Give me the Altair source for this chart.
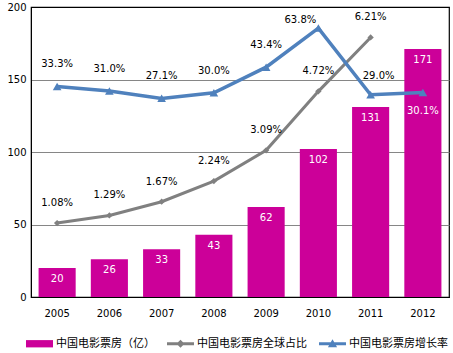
import altair as alt
import pandas as pd

years = ["2005", "2006", "2007", "2008", "2009", "2010", "2011", "2012"]
box_office = [20, 26, 33, 43, 62, 102, 131, 171]
share_years = ["2005", "2006", "2007", "2008", "2009", "2010", "2011"]
global_share = [1.08, 1.29, 1.67, 2.24, 3.09, 4.72, 6.21]
growth = [33.3, 31.0, 27.1, 30.0, 43.4, 63.8, 29.0, 30.1]
series = ["中国电影票房（亿）", "中国电影票房全球占比", "中国电影票房增长率"]
colors = ["#CC0099", "#808080", "#4F81BD"]
y_ticks = [0, 50, 100, 150, 200]

bars_df = pd.DataFrame({"year": years, "value": box_office})
share_df = pd.DataFrame({"year": share_years, "share": global_share,
                         "label": [f"{v:.2f}%" for v in global_share]})
growth_df = pd.DataFrame({"year": years, "growth": growth,
                          "label": [f"{v:.1f}%" for v in growth]})
legend_df = pd.DataFrame({"series": series})

FONT = "DejaVu Sans"
CJK = "Noto Sans CJK SC"

# legend symbol paths: bar swatch, line+diamond, line+triangle
paths = [
    "M-1,-0.27H1V0.27H-1Z",
    "M-1,-0.11H1V0.11H-1Z M0,-0.3L0.3,0L0,0.3L-0.3,0Z",
    "M-1,-0.12H1V0.12H-1Z M0,-0.34L0.34,0.26L-0.34,0.26Z",
]

x_main = alt.X(
    "year:N", sort=years, title=None,
    scale=alt.Scale(paddingInner=0.29, paddingOuter=0.145),
    axis=alt.Axis(labelAngle=0, tickSize=0, labelPadding=11, domainColor="black",
                  labelFont=FONT, labelFontSize=10, labelColor="black"),
)
x_plain = alt.X("year:N", sort=years)

bar_scale = alt.Scale(domain=[0, 200], nice=False)
share_scale = alt.Scale(domain=[-0.964, 7.052], nice=False, zero=False)
growth_scale = alt.Scale(domain=[-76.6, 74.8], nice=False, zero=False)

bars = alt.Chart(bars_df).mark_bar(color="#CC0099").encode(
    x=x_main,
    y=alt.Y("value:Q", scale=bar_scale, title=None,
            axis=alt.Axis(values=y_ticks, tickSize=0, labelPadding=5, grid=True,
                          gridColor={"condition": {"test": "datum.value === 0 || datum.value === 200",
                                                   "value": "black"},
                                     "value": "#868686"},
                          domainColor="black", labelFont=FONT, labelFontSize=10,
                          labelColor="black")),
)
bar_text = alt.Chart(bars_df).mark_text(font=FONT, fontSize=10, color="white", dy=11).encode(
    x=x_plain, y=alt.Y("value:Q", scale=bar_scale, axis=None), text="value:Q"
)

share_line = alt.Chart(share_df).mark_line(
    color="#808080", strokeWidth=3,
    point=alt.OverlayMarkDef(shape="diamond", size=40, filled=True, color="#808080"),
).encode(x=x_plain, y=alt.Y("share:Q", scale=share_scale, axis=None))
share_text = alt.Chart(share_df).mark_text(font=FONT, fontSize=10, color="black", dy=-20).encode(
    x=x_plain, y=alt.Y("share:Q", scale=share_scale, axis=None), text="label:N"
)

growth_line = alt.Chart(growth_df).mark_line(
    color="#4F81BD", strokeWidth=3.5,
    point=alt.OverlayMarkDef(shape="triangle-up", size=75, filled=True, color="#4F81BD"),
).encode(x=x_plain, y=alt.Y("growth:Q", scale=growth_scale, axis=None))


def growth_label(sel, dx, dy, color):
    return alt.Chart(growth_df).transform_filter(
        alt.FieldOneOfPredicate(field="year", oneOf=sel)
    ).mark_text(font=FONT, fontSize=10, color=color, dx=dx, dy=dy).encode(
        x=x_plain, y=alt.Y("growth:Q", scale=growth_scale, axis=None), text="label:N"
    )


g1 = growth_label(years[:5], 0, -22, "black")
g2 = growth_label([years[5]], -18, -8, "black")
g3 = growth_label([years[6]], 8, -19, "black")
g4 = growth_label([years[7]], 0, 18, "white")

leg = alt.Legend(title=None, orient="none", legendX=-5, legendY=323, direction="horizontal",
                 symbolSize=729, symbolStrokeWidth=0, symbolOpacity=1,
                 labelFont=CJK, labelFontSize=11, labelColor="black", labelOffset=3,
                 columnPadding=12, padding=0)
legend_layer = alt.Chart(legend_df).mark_point(filled=True).encode(
    x=alt.value(-500), y=alt.value(-500),
    color=alt.Color("series:N", scale=alt.Scale(domain=series, range=colors), legend=leg),
    shape=alt.Shape("series:N", scale=alt.Scale(domain=series, range=paths), legend=leg),
)

chart = alt.layer(
    bars, bar_text, share_line, share_text, growth_line, g1, g2, g3, g4, legend_layer
).resolve_scale(y="independent").properties(
    width=418, height=290,
    padding={"left": 31, "top": 7, "right": 4, "bottom": 56},
    autosize=alt.AutoSizeParams(type="none"),
).configure_view(stroke="black", strokeWidth=1.2)

chart.save("out.html", embed_options={"renderer": "svg", "actions": False})
